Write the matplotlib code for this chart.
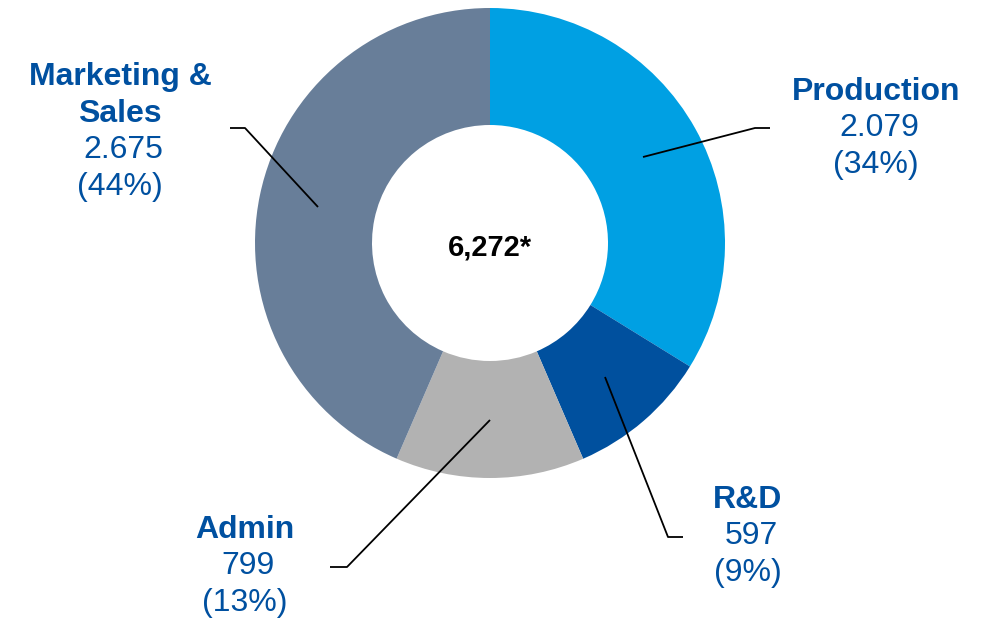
import matplotlib.pyplot as plt

plt.rcParams['font.family'] = ['Liberation Sans', 'DejaVu Sans']

# Headcount by function
labels = ["Production", "R&D", "Admin", "Marketing &\nSales"]
values = [2079, 597, 799, 2675]
value_text = ["2.079", "597", "799", "2.675"]
shares = [34, 9, 13, 44]
total_text = "6,272*"
colors = ["#00A0E3", "#00509E", "#B2B2B2", "#687E99"]

label_color = "#0050A0"

fig = plt.figure(figsize=(9.9, 6.23), dpi=100)
ax = fig.add_axes([0, 0, 1, 1])

cx, cy, r = 490, 380, 235
ax.pie(values, startangle=90, counterclock=False, colors=colors,
       radius=r, center=(cx, cy), frame=True,
       wedgeprops=dict(width=117, linewidth=0))
ax.set_xlim(0, 990)
ax.set_ylim(0, 623)
ax.set_aspect("equal")
ax.axis("off")

ax.text(cx, 623 - 247, total_text, ha="center", va="center",
        fontsize=21, fontweight="bold", color="black")

# leader lines (pixel layout, y measured from the top)
leaders = [
    [(643, 157), (755, 128), (770, 128)],
    [(605, 377), (668, 537), (683, 537)],
    [(490, 420), (347, 567), (330, 567)],
    [(318, 207), (245, 128), (230, 128)],
]
for pts in leaders:
    xs = [p[0] for p in pts]
    ys = [623 - p[1] for p in pts]
    ax.plot(xs, ys, color="black", lw=1.3, solid_capstyle="butt")

# label blocks: x centre and top-line y
blocks = [(876, 92), (748, 500), (245, 530), (120, 77)]
step = 36.5
for lab, val, pct, (x, y) in zip(labels, value_text, shares, blocks):
    name_lines = lab.split("\n")
    for i, line in enumerate(name_lines):
        ax.text(x, 623 - (y + i * step), line, ha="center", va="center",
                fontsize=23, fontweight="bold", color=label_color)
    n = len(name_lines)
    ax.text(x + 3, 623 - (y + n * step), val, ha="center", va="center",
            fontsize=23, color=label_color)
    ax.text(x, 623 - (y + (n + 1) * step), f"({pct}%)", ha="center", va="center",
            fontsize=23, color=label_color)

fig.savefig("out.png", dpi=100)
